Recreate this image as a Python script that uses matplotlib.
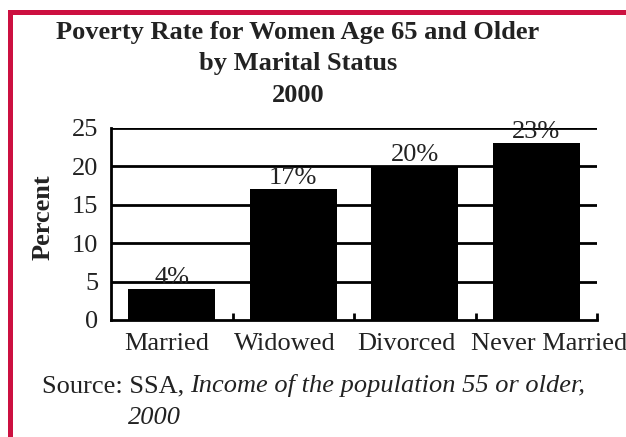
import matplotlib.pyplot as plt
from matplotlib.patches import Rectangle
from matplotlib.transforms import ScaledTranslation

# data
categories = ['Married', 'Widowed', 'Divorced', 'Never Married']
rates = [4, 17, 20, 23]
bar_labels = ['4%', '17%', '20%', '23%']
y_ticks = [0, 5, 10, 15, 20, 25]

plt.rcParams['font.family'] = ['Liberation Serif', 'DejaVu Serif']
ink = '#222222'
fs = 19

fig = plt.figure(figsize=(6.26, 4.37), dpi=100)
ax = fig.add_axes([111 / 626, 1 - 320 / 437, 486 / 626, 192 / 437])

x = list(range(len(categories)))
ax.bar(x, rates, width=0.72, color='black', zorder=3)

# horizontal gridlines drawn under the bars
for v in y_ticks[1:]:
    ax.axhline(v, color='black', lw=2, zorder=1)

for xi, v, lab in zip(x, rates, bar_labels):
    ax.text(xi, v + 0.05, lab, ha='center', va='bottom', fontsize=fs,
            color=ink, zorder=2)

ax.set_xlim(-0.5, len(categories) - 0.5)
ax.set_ylim(0, 25)
ax.set_yticks(y_ticks)
ax.set_xticks(x)
ax.set_xticklabels(categories)
ax.set_xticks([i + 0.5 for i in x], minor=True)
ax.tick_params(axis='x', which='major', length=0, pad=9, labelsize=fs,
               labelcolor=ink)
ax.tick_params(axis='x', which='minor', direction='in', length=5, width=2)
ax.tick_params(axis='y', length=0, pad=9, labelsize=fs, labelcolor=ink)

# nudge category labels apart like the original layout did
for lbl, dx in zip(ax.get_xticklabels(), [-5, -8, -8, 13]):
    lbl.set_transform(lbl.get_transform() +
                      ScaledTranslation(dx / 100, 0, fig.dpi_scale_trans))

for s in ['top', 'right']:
    ax.spines[s].set_visible(False)
ax.spines['left'].set_linewidth(2)
ax.spines['bottom'].set_linewidth(2)

fig.text(43 / 626, 1 - 217 / 437, 'Percent', rotation=90, ha='center',
         va='center', fontsize=fs, fontweight='bold', color=ink)

# title
title_lines = ['Poverty Rate for Women Age 65 and Older', 'by Marital Status', '2000']
title_y = [39, 70, 102]
for line, ty in zip(title_lines, title_y):
    fig.text(298 / 626, 1 - ty / 437, line, ha='center',
             va='baseline', fontsize=fs, fontweight='bold', color=ink)

# source note
fig.text(42 / 626, 1 - 392 / 437, 'Source: SSA,', ha='left', va='baseline',
         fontsize=fs, color=ink)
fig.text(190 / 626, 1 - 392 / 437, 'Income of the population 55 or older,',
         ha='left', va='baseline', fontsize=fs, style='italic', color=ink)
fig.text(128 / 626, 1 - 424 / 437, '2000', ha='left', va='baseline',
         fontsize=fs, style='italic', color=ink)

# red frame on top and left
red = '#CC1040'
fig.add_artist(Rectangle((8 / 626, 0), 5 / 626, 1 - 10 / 437,
                         transform=fig.transFigure, color=red, lw=0))
fig.add_artist(Rectangle((8 / 626, 1 - 15 / 437), 1 - 8 / 626, 5 / 437,
                         transform=fig.transFigure, color=red, lw=0))

fig.savefig('out.png', dpi=100)
